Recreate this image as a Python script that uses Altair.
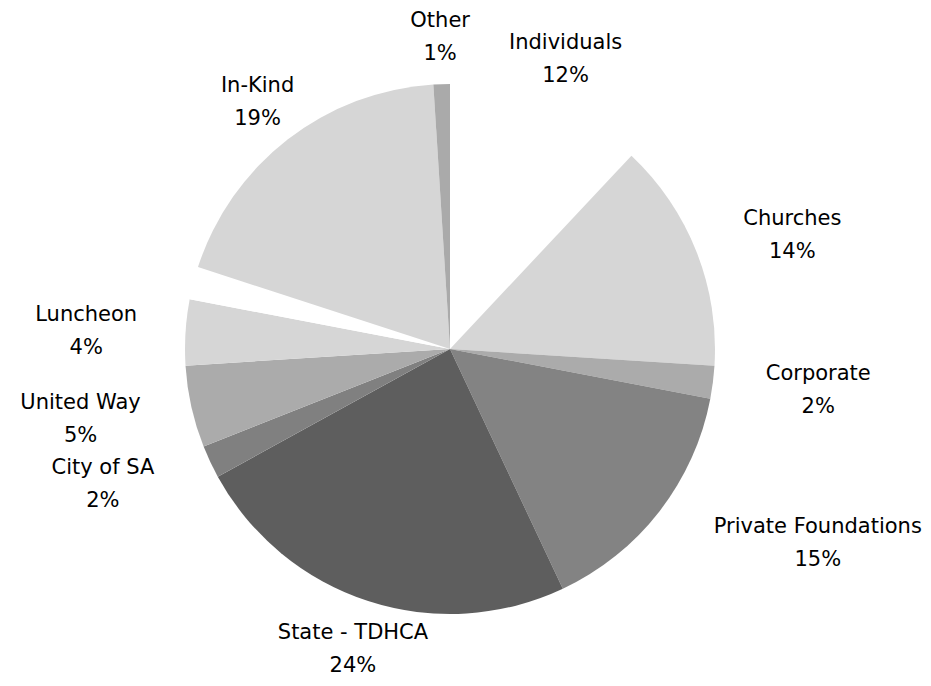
import math
import altair as alt
import pandas as pd

# ---- data ----
categories = ["Individuals", "Churches", "Corporate", "Private Foundations",
              "State - TDHCA", "City of SA", "United Way", "Luncheon",
              "(unlabeled)", "In-Kind", "Other"]
shares = [12, 14, 2, 15, 24, 2, 5, 4, 2, 19, 1]
label_names = ["Individuals", "Churches", "Corporate", "Private Foundations",
               "State - TDHCA", "City of SA", "United Way", "Luncheon",
               "", "In-Kind", "Other"]

# ---- styles ----
slice_colors = ["#ffffff", "#d6d6d6", "#ababab", "#838383", "#5e5e5e",
                "#808080", "#ababab", "#d6d6d6", "#ffffff", "#d6d6d6", "#aaaaaa"]

W, H = 915, 670
CX, CY = 442, 341          # pie centre inside the plot area
R = 265
LABEL_R = 314              # radius of the label anchor circle
FONT = "DejaVu Sans"
FS = 21
LINE_H = 33
CHAR_W = 0.6 * FS

total = sum(shares)
rows = []
start = 0.0
for i, (c, v, ln) in enumerate(zip(categories, shares, label_names)):
    ang = v / total * 360.0
    mid = math.radians(start + ang / 2)
    start += ang
    s, co = math.sin(mid), math.cos(mid)
    w = len(ln) * CHAR_W
    # anchor on a circle outside the rim; side labels hang off the anchor,
    # top / bottom labels are centred on it
    ax = CX + LABEL_R * s
    ay = CY - LABEL_R * co + 2
    if abs(s) > math.sqrt(0.5):
        ax += math.copysign(w / 2, s)
    ly = ay - LINE_H / 2       # first line of the two-line block
    rows.append({"idx": i, "cat": c, "val": v,
                 "label": f"{ln}\n{round(v / total * 100)}%" if ln else "",
                 "lx": ax, "ly": ly})
df = pd.DataFrame(rows)

base = alt.Chart(df)

pie = base.mark_arc(outerRadius=R, strokeWidth=0).encode(
    theta=alt.Theta("val:Q", stack=True),
    order=alt.Order("idx:Q"),
    color=alt.Color("cat:N", scale=alt.Scale(domain=categories, range=slice_colors), legend=None),
    x=alt.value(CX),
    y=alt.value(CY),
)

labels = base.transform_filter(alt.datum.label != "").mark_text(
    font=FONT, fontSize=FS, color="#000000", lineBreak="\n", lineHeight=LINE_H,
    align="center", baseline="middle",
).encode(
    x=alt.X("lx:Q", scale=alt.Scale(domain=[0, W], nice=False, zero=False), axis=None),
    y=alt.Y("ly:Q", scale=alt.Scale(domain=[0, H], nice=False, zero=False, reverse=True), axis=None),
    text="label:N",
)

chart = alt.layer(pie, labels).properties(
    width=W, height=H, autosize=alt.AutoSizeParams(type="none"), padding=0
).configure(
    background="#ffffff",
    view=alt.ViewConfig(strokeWidth=0),
)

chart.save("out.html", embed_options={"renderer": "svg", "actions": False})
